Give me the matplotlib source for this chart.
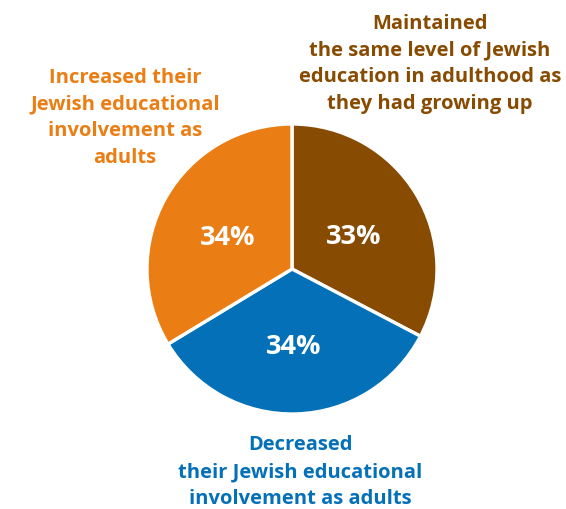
import matplotlib.pyplot as plt

# shares of respondents by change in Jewish education
labels = [
    "Maintained\nthe same level of Jewish\neducation in adulthood as\nthey had growing up",
    "Decreased\ntheir Jewish educational\ninvolvement as adults",
    "Increased their\nJewish educational\ninvolvement as\nadults",
]
values = [33, 34, 34]
colors = ["#874B02", "#0470B8", "#EA7E14"]

W, H = 566, 510
fig = plt.figure(figsize=(W / 100, H / 100), dpi=100)
ax = fig.add_axes([0, 0, 1, 1])
ax.set_xlim(0, W)
ax.set_ylim(0, H)
ax.set_aspect("equal")
ax.axis("off")

cx, cy, r = 292, H - 270, 145
wedges, _ = ax.pie(values, colors=colors, startangle=90, counterclock=False,
                   center=(cx, cy), radius=r,
                   wedgeprops=dict(edgecolor="white", linewidth=2.4))
ax.set_xlim(0, W)
ax.set_ylim(0, H)

# percentage labels inside the slices
pct_pos = [(354, 237), (294, 347), (228, 238)]
for v, (x, y) in zip(values, pct_pos):
    ax.text(x, H - y, f"{v}%", ha="center", va="center", color="white",
            fontsize=19.5, fontweight="bold", family="Open Sans")

# category labels around the pie
label_pos = [(430, 64), (300, 472), (125, 118)]
for lab, col, (x, y) in zip(labels, colors, label_pos):
    ax.text(x, H - y, lab, ha="center", va="center", color=col,
            fontsize=14.5, fontweight="bold", family="Open Sans", linespacing=1.45)

fig.savefig("out.png", dpi=100)
